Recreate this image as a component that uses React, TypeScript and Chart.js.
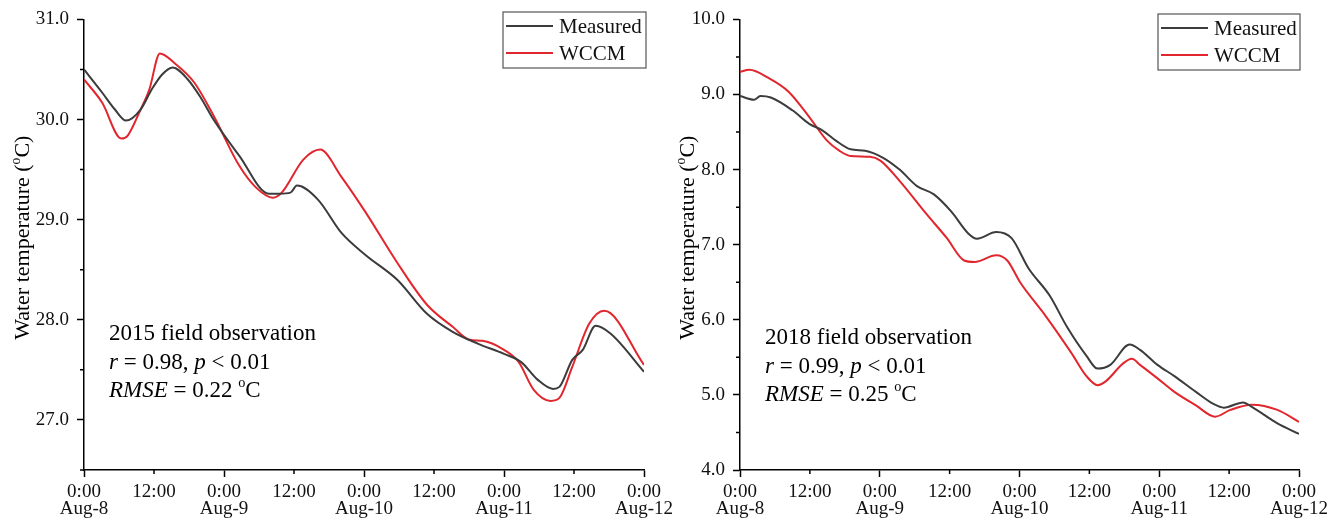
import { useEffect, useRef } from "react";
import Chart from "chart.js/auto";

// hours since 0:00 Aug-8
const hours2015Measured = [0, 3.1, 5.3, 7.2, 9.7, 11.6, 13.4, 15.2, 17.8, 20, 22.2, 26.6, 31.7, 33.5, 35.4, 36.5, 40.1, 44.1, 48.2, 53.7, 58.8, 63.2, 67.6, 72, 74.9, 77.8, 80.4, 81.5, 83.7, 85.5, 87.7, 90.3, 96];
const temp2015Measured = [30.5, 30.27, 30.1, 29.99, 30.1, 30.3, 30.45, 30.52, 30.4, 30.22, 30.0, 29.64, 29.26, 29.26, 29.27, 29.34, 29.2, 28.87, 28.65, 28.4, 28.06, 27.88, 27.76, 27.66, 27.58, 27.4, 27.31, 27.33, 27.6, 27.7, 27.94, 27.86, 27.48];

const hours2015Model = [0, 3.1, 6.4, 7.5, 9.7, 11.2, 13, 15.6, 18.9, 22.2, 26.6, 29.5, 32.4, 33.9, 37.6, 40.5, 44.1, 48.2, 53.7, 58.8, 63.2, 66.1, 68.3, 72, 74.5, 77.1, 80, 81.5, 83.7, 86.6, 89.2, 96];
const temp2015Model = [30.4, 30.17, 29.81, 29.84, 30.1, 30.3, 30.66, 30.56, 30.37, 30.04, 29.54, 29.32, 29.22, 29.27, 29.6, 29.7, 29.43, 29.08, 28.57, 28.15, 27.93, 27.8, 27.79, 27.7, 27.58, 27.3, 27.19, 27.22, 27.53, 27.96, 28.09, 27.55];

const hours2018Measured = [0, 2.4, 3.5, 5.3, 9, 11.9, 14.2, 16.4, 19, 21.5, 24.5, 27.4, 30.4, 33.3, 36.3, 39.2, 40.7, 44, 46.6, 49.6, 53.2, 56.2, 59.5, 61.4, 63.6, 66.9, 68.7, 71.7, 74.6, 78.3, 81.3, 83.1, 86.4, 87.9, 92.3, 96];
const temp2018Measured = [8.98, 8.93, 8.98, 8.96, 8.79, 8.61, 8.52, 8.39, 8.27, 8.25, 8.16, 8.0, 7.78, 7.67, 7.44, 7.15, 7.08, 7.17, 7.09, 6.68, 6.32, 5.9, 5.52, 5.35, 5.4, 5.67, 5.6, 5.4, 5.25, 5.04, 4.88, 4.83, 4.9, 4.84, 4.62, 4.48];

const hours2018Model = [0, 1.6, 4.9, 8.3, 11.9, 14.9, 17.1, 19, 22.3, 24.1, 27.4, 31.9, 35.5, 38.5, 40.3, 44, 45.9, 48.1, 52.5, 56.9, 59.5, 61.4, 62.8, 65.8, 67.3, 68.7, 71.7, 74.6, 78.3, 81.6, 84.2, 87.9, 92.3, 96];
const temp2018Model = [9.3, 9.33, 9.22, 9.04, 8.7, 8.39, 8.25, 8.18, 8.17, 8.12, 7.85, 7.42, 7.09, 6.79, 6.77, 6.86, 6.79, 6.5, 6.05, 5.56, 5.25, 5.13, 5.18, 5.42, 5.48, 5.4, 5.22, 5.04, 4.86, 4.71, 4.8, 4.87, 4.8, 4.64];

const xTickHours = [0, 12, 24, 36, 48, 60, 72, 84, 96];
const xTickLabels: (string | string[])[] = [
  ["0:00", "Aug-8"], "12:00", ["0:00", "Aug-9"], "12:00", ["0:00", "Aug-10"],
  "12:00", ["0:00", "Aug-11"], "12:00", ["0:00", "Aug-12"],
];
const xMinorHours = [12, 36, 60, 84];

const yTicks2015 = [27, 28, 29, 30, 31];
const yMinor2015 = [26.5, 27.5, 28.5, 29.5, 30.5];
const yTicks2018 = [4, 5, 6, 7, 8, 9, 10];
const yMinor2018 = [4.5, 5.5, 6.5, 7.5, 8.5, 9.5];

const seriesNames = ["Measured", "WCCM"];
const seriesColors = ["#3c3c3c", "#e2262d"];

type Seg = { t: string; i?: boolean; sup?: boolean };

const SERIF = '"Liberation Serif", "Times New Roman", serif';

function drawRich(ctx: CanvasRenderingContext2D, segs: Seg[], x: number, y: number, size: number, align: "left" | "center") {
  const fontFor = (s: Seg) => `${s.i ? "italic " : ""}${s.sup ? size * 0.62 : size}px ${SERIF}`;
  let total = 0;
  for (const s of segs) {
    ctx.font = fontFor(s);
    total += ctx.measureText(s.t).width;
  }
  let cx = align === "center" ? x - total / 2 : x;
  ctx.textAlign = "left";
  ctx.textBaseline = "alphabetic";
  for (const s of segs) {
    ctx.font = fontFor(s);
    ctx.fillText(s.t, cx, s.sup ? y - size * 0.42 : y);
    cx += ctx.measureText(s.t).width;
  }
}

const decorPlugin = {
  id: "decor",
  afterDraw(chart: any, _args: any, opts: any) {
    const { ctx, chartArea } = chart;
    const xs = chart.scales.x;
    const ys = chart.scales.y;
    ctx.save();
    ctx.strokeStyle = "#000";
    ctx.lineWidth = 1.5;
    ctx.beginPath();
    for (const h of opts.xMinor) {
      const px = xs.getPixelForValue(h);
      ctx.moveTo(px, chartArea.bottom);
      ctx.lineTo(px, chartArea.bottom + 4);
    }
    for (const v of opts.yMinor) {
      const py = ys.getPixelForValue(v);
      ctx.moveTo(chartArea.left, py);
      ctx.lineTo(chartArea.left - 4, py);
    }
    ctx.stroke();

    // y-axis title
    ctx.fillStyle = "#000";
    ctx.save();
    ctx.translate(chartArea.left - opts.titleOffset, (chartArea.top + chartArea.bottom) / 2 - 7);
    ctx.rotate(-Math.PI / 2);
    drawRich(ctx, [{ t: "Water temperature (" }, { t: "o", sup: true }, { t: "C)" }], 0, 7, 22, "center");
    ctx.restore();

    // statistics text
    opts.notes.forEach((line: Seg[], k: number) => {
      drawRich(ctx, line, chartArea.left + opts.noteX, opts.noteY + k * 28.5, 23, "left");
    });

    // legend box
    const lb = opts.legend;
    ctx.lineWidth = 1.2;
    ctx.strokeStyle = "#555";
    ctx.strokeRect(lb.x, lb.y, lb.w, lb.h);
    chart.data.datasets.forEach((ds: any, k: number) => {
      const ly = lb.y + 14 + k * 27;
      ctx.strokeStyle = ds.borderColor;
      ctx.lineWidth = 2;
      ctx.beginPath();
      ctx.moveTo(lb.x + 3, ly);
      ctx.lineTo(lb.x + 50, ly);
      ctx.stroke();
      ctx.fillStyle = "#111";
      ctx.font = `21px ${SERIF}`;
      ctx.textAlign = "left";
      ctx.textBaseline = "middle";
      ctx.fillText(ds.label, lb.x + 56, ly + 1);
    });
    ctx.restore();
  },
};

interface PanelProps {
  left: number;
  width: number;
  axisWidth: number;
  padRight: number;
  measuredHours: number[];
  measured: number[];
  modelHours: number[];
  model: number[];
  yMin: number;
  yMax: number;
  yTicks: number[];
  yMinor: number[];
  titleOffset: number;
  notes: Seg[][];
  noteX: number;
  noteY: number;
  legend: { x: number; y: number; w: number; h: number };
}

function Panel(p: PanelProps) {
  const canvasRef = useRef<HTMLCanvasElement | null>(null);

  useEffect(() => {
    const ctx = canvasRef.current?.getContext("2d");
    if (!ctx) return;
    const chart = new Chart(ctx, {
      type: "line",
      data: {
        datasets: [
          {
            label: seriesNames[0],
            data: p.measuredHours.map((h, k) => ({ x: h, y: p.measured[k] })),
            borderColor: seriesColors[0],
            borderWidth: 2,
            pointRadius: 0,
            cubicInterpolationMode: "monotone",
          },
          {
            label: seriesNames[1],
            data: p.modelHours.map((h, k) => ({ x: h, y: p.model[k] })),
            borderColor: seriesColors[1],
            borderWidth: 2,
            pointRadius: 0,
            cubicInterpolationMode: "monotone",
          },
        ],
      },
      options: {
        animation: false,
        responsive: false,
        layout: { padding: { top: 19, right: p.padRight, left: 0, bottom: 0 } },
        plugins: {
          legend: { display: false },
          tooltip: { enabled: false },
          decor: {
            xMinor: xMinorHours,
            yMinor: p.yMinor,
            titleOffset: p.titleOffset,
            notes: p.notes,
            noteX: p.noteX,
            noteY: p.noteY,
            legend: p.legend,
          },
        } as any,
        scales: {
          x: {
            type: "linear",
            min: 0,
            max: 96,
            afterBuildTicks: (scale: any) => {
              scale.ticks = xTickHours.map((v) => ({ value: v }));
            },
            afterFit: (scale: any) => {
              scale.height = 526 - 470;
            },
            border: { color: "#000", width: 1.5 },
            grid: {
              drawOnChartArea: false,
              tickLength: 7,
              tickWidth: 1.5,
              tickColor: (c: any) => (xMinorHours.includes(c.tick?.value) ? "rgba(0,0,0,0)" : "#000"),
            },
            ticks: {
              autoSkip: false,
              maxRotation: 0,
              padding: 7,
              color: "#111",
              font: { family: SERIF, size: 19, lineHeight: 0.88 },
              callback: (v: any) => xTickLabels[xTickHours.indexOf(Number(v))] ?? "",
            },
          },
          y: {
            type: "linear",
            min: p.yMin,
            max: p.yMax,
            afterBuildTicks: (scale: any) => {
              scale.ticks = p.yTicks.map((v) => ({ value: v }));
            },
            afterFit: (scale: any) => {
              scale.width = p.axisWidth;
            },
            border: { color: "#000", width: 1.5 },
            grid: { drawOnChartArea: false, tickLength: 7, tickWidth: 1.5, tickColor: "#000" },
            ticks: {
              padding: 8,
              color: "#111",
              font: { family: SERIF, size: 19 },
              callback: (v: any) => Number(v).toFixed(1),
            },
          },
        },
      },
      plugins: [decorPlugin],
    });
    return () => chart.destroy();
  }, []);

  return (
    <div style={{ position: "absolute", left: p.left, top: 0, width: p.width, height: 526 }}>
      <canvas ref={canvasRef} width={p.width} height={526} style={{ width: p.width, height: 526 }} />
    </div>
  );
}

export default function App() {
  return (
    <div style={{ position: "absolute", left: 0, top: 0, width: 1341, height: 526, background: "#fff" }}>
      <Panel
        left={670}
        width={671}
        axisWidth={70}
        padRight={42}
        measuredHours={hours2018Measured}
        measured={temp2018Measured}
        modelHours={hours2018Model}
        model={temp2018Model}
        yMin={4}
        yMax={10}
        yTicks={yTicks2018}
        yMinor={yMinor2018}
        titleOffset={53}
        notes={[
          [{ t: "2018 field observation" }],
          [{ t: "r", i: true }, { t: " = 0.99, " }, { t: "p", i: true }, { t: " < 0.01" }],
          [{ t: "RMSE", i: true }, { t: " = 0.25 " }, { t: "o", sup: true }, { t: "C" }],
        ]}
        noteX={25}
        noteY={344}
        legend={{ x: 488, y: 14, w: 142, h: 56 }}
      />
      <Panel
        left={0}
        width={700}
        axisWidth={84}
        padRight={56}
        measuredHours={hours2015Measured}
        measured={temp2015Measured}
        modelHours={hours2015Model}
        model={temp2015Model}
        yMin={26.5}
        yMax={31}
        yTicks={yTicks2015}
        yMinor={yMinor2015}
        titleOffset={62}
        notes={[
          [{ t: "2015 field observation" }],
          [{ t: "r", i: true }, { t: " = 0.98, " }, { t: "p", i: true }, { t: " < 0.01" }],
          [{ t: "RMSE", i: true }, { t: " = 0.22 " }, { t: "o", sup: true }, { t: "C" }],
        ]}
        noteX={25}
        noteY={340}
        legend={{ x: 503, y: 12, w: 143, h: 56 }}
      />
    </div>
  );
}
